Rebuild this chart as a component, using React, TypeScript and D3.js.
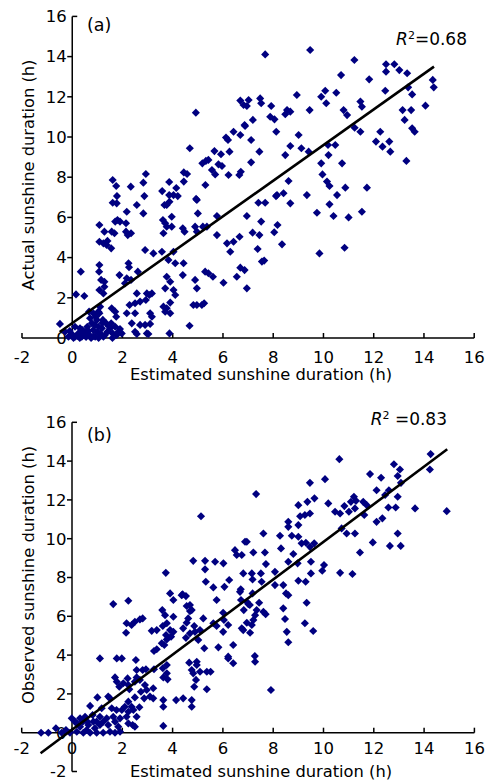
import * as d3 from 'd3';

// shared axis ticks
const xTicks = [-2, 0, 2, 4, 6, 8, 10, 12, 14, 16];
const yTicksA = [0, 2, 4, 6, 8, 10, 12, 14, 16];
const yTicksB = [-2, 0, 2, 4, 6, 8, 10, 12, 14, 16];

// (a) estimated vs actual sunshine duration
const pointsA: [number, number][] = [
  [1.61, 7.86], [1.75, 7.56], [2.33, 7.53], [2.83, 7.73], [2.93, 8.16], [2.87, 7.06], [1.78, 7.06], [3.58, 7.31],
  [3.86, 7.76], [4.14, 7.46], [4.2, 7.06], [4.44, 7.78], [4.44, 8.24], [4.57, 8.16], [4.68, 9.44], [4.92, 11.21],
  [4.93, 6.92], [5.18, 8.69], [5.32, 8.81], [5.42, 8.86], [5.3, 7.61], [5.66, 9.3], [5.56, 8.36], [5.69, 8.14],
  [5.82, 8.64], [5.96, 8.56], [5.92, 9.14], [6.26, 9.27], [6.12, 9.97], [6.2, 9.85], [6.42, 10.26], [6.69, 10.1],
  [6.69, 11.81], [6.82, 11.59], [6.86, 10.6], [6.22, 8.11], [6.65, 8.11], [6.71, 8.27],
  [7.68, 14.11], [9.47, 14.33], [11.23, 13.83], [12.49, 13.62], [12.82, 13.62], [13.02, 13.33], [13.33, 13.17],
  [12.49, 13.25], [10.7, 13.08], [11.82, 12.87], [14.35, 12.84], [14.39, 12.47], [10.07, 12.3], [9.91, 12.0],
  [10.51, 12.2], [8.94, 12.09], [10.11, 11.68], [12.46, 12.3], [13.37, 12.47], [13.53, 12.12], [7.02, 11.84],
  [7.48, 11.92], [7.52, 11.68], [7.92, 11.54], [6.95, 11.54], [9.45, 11.34], [8.55, 11.34], [8.48, 11.13],
  [8.68, 11.26], [10.8, 11.34], [10.94, 11.09], [11.47, 11.76], [11.53, 11.51], [13.15, 11.34], [13.49, 11.34],
  [14.06, 11.56], [7.88, 11.01], [8.05, 10.88], [7.19, 10.85], [6.88, 10.55], [13.23, 10.85], [8.12, 10.26],
  [11.24, 10.46], [11.47, 10.26], [12.26, 10.26], [13.53, 10.43], [13.63, 10.26], [7.12, 9.85], [9.01, 10.1],
  [7.45, 9.27], [8.68, 9.55], [9.12, 9.44], [9.41, 9.27], [10.18, 9.6], [10.47, 9.6], [10.2, 9.1], [12.09, 9.77],
  [12.35, 9.52], [12.62, 9.77], [12.66, 9.27], [8.48, 9.1], [7.12, 8.74], [9.91, 8.69], [10.74, 8.69], [13.3, 8.81],
  [9.96, 8.14], [10.14, 7.78], [10.24, 7.56], [8.61, 7.81], [10.87, 7.48], [11.73, 7.48], [8.15, 7.11], [8.41, 7.2],
  [9.34, 7.11], [10.54, 7.11],
  [3.86, 7.11], [1.61, 6.73], [1.77, 6.7], [1.8, 5.87], [1.71, 5.79], [1.9, 5.79], [2.14, 5.71], [2.57, 6.62],
  [2.83, 6.2], [2.17, 6.28], [1.08, 5.62], [1.28, 5.29], [1.57, 5.29], [1.68, 5.21], [2.14, 5.29], [2.34, 5.21],
  [2.21, 5.12], [1.08, 4.79], [1.24, 4.71], [1.4, 4.83], [1.37, 4.63], [1.55, 4.46], [3.67, 6.62], [3.76, 6.62],
  [3.87, 6.78], [4.03, 7.11], [3.96, 6.03], [3.61, 5.87], [3.7, 5.71], [3.76, 5.54], [3.96, 5.54], [3.63, 5.21],
  [4.4, 5.46], [4.47, 5.29], [4.96, 6.87], [5.0, 6.2], [4.89, 5.54], [4.96, 5.29], [5.2, 5.54], [5.36, 5.54],
  [5.76, 6.07], [5.76, 5.12], [2.9, 4.38], [3.23, 4.21], [3.57, 4.29], [4.03, 4.29], [0.34, 3.3], [1.08, 3.63],
  [1.07, 3.3], [1.15, 2.89], [1.28, 2.8], [1.08, 2.39], [1.28, 2.55], [1.24, 2.22], [2.24, 3.72], [2.26, 3.52],
  [1.88, 3.13], [2.17, 2.97], [2.34, 2.89], [2.1, 2.72], [2.61, 3.3], [2.57, 2.22], [2.97, 2.22], [3.07, 2.14],
  [3.17, 2.22], [3.83, 3.88], [4.1, 3.72], [4.43, 3.72], [3.76, 3.05], [3.9, 2.8], [3.7, 2.47], [4.03, 2.39],
  [4.1, 2.14], [4.4, 3.13], [4.89, 2.89], [4.96, 2.47], [5.29, 3.3], [5.42, 3.22], [5.6, 3.05], [6.02, 2.75],
  [4.82, 1.64], [4.96, 1.64], [5.16, 1.64], [5.25, 1.73], [3.63, 1.56], [3.76, 1.48], [3.9, 1.76], [3.7, 1.31],
  [3.9, 1.23], [2.93, 1.89], [2.7, 1.81], [2.5, 1.73], [2.28, 1.64], [2.17, 1.23], [2.5, 1.23], [3.1, 1.23],
  [3.17, 1.06], [2.37, 0.73], [2.7, 0.65], [2.9, 0.65], [3.1, 0.7], [2.97, 0.23], [2.5, 0.31], [3.87, 0.23],
  [4.67, 0.61], [1.71, 1.31], [1.75, 1.06], [1.57, 1.48], [1.55, 0.73], [1.84, 0.31], [1.97, 0.23], [-0.49, 0.7],
  [0.15, 2.17], [0.48, 2.09], [1.08, 1.23], [0.94, 1.06], [0.67, 1.31], [1.22, 0.9],
  [-0.29, 0.31], [-0.15, 0.06], [-0.02, 0.2], [0.11, 0.06], [0.24, 0.23], [0.38, 0.06], [0.51, 0.31], [0.6, 0.56],
  [0.68, 0.15], [0.78, 0.73], [0.84, 0.4], [0.91, 0.06], [0.98, 0.9], [1.04, 0.56], [1.11, 0.23], [1.18, 0.48],
  [1.24, 0.06], [1.35, 0.73], [1.4, 0.31], [1.51, 0.48], [1.61, 0.23], [1.71, 0.56], [1.77, 0.15], [0.55, 0.05],
  [0.31, 0.48], [0.11, 0.56], [0.71, 0.98], [0.84, 1.23], [1.04, 1.31], [1.11, 1.56], [0.05, 0.0], [0.2, 0.1],
  [0.45, 0.2], [0.65, 0.35], [0.85, 0.1], [1.0, 0.3], [1.3, 0.15], [1.45, 0.6], [0.9, 0.65], [1.2, 0.75],
  [0.4, 0.4], [-0.1, 0.35], [1.6, 0.0], [1.9, 0.45], [0.75, 0.0], [1.05, 0.0], [0.3, 0.0], [2.57, 0.2], [3.03, 0.2],
  [8.11, 7.06], [7.41, 6.73], [7.68, 6.73], [8.68, 6.7], [10.24, 6.65], [9.74, 6.23], [10.4, 6.07], [11.0, 6.0],
  [11.53, 6.28], [6.95, 6.07], [7.52, 5.79], [8.17, 5.62], [8.04, 5.26], [7.18, 5.24], [7.45, 5.12], [8.35, 4.66],
  [7.38, 4.43], [9.84, 4.21], [10.84, 4.49], [7.55, 3.8], [7.64, 3.85], [6.95, 2.47], [6.86, 3.38], [6.69, 3.5],
  [6.55, 3.05], [6.16, 4.71], [6.29, 4.29], [6.66, 5.04], [6.42, 4.79],
];

// (b) estimated vs observed sunshine duration
const pointsB: [number, number][] = [
  [5.13, 11.16], [3.73, 8.24], [4.82, 8.86], [5.29, 8.86], [5.29, 8.42], [5.69, 8.81], [6.02, 8.73], [5.32, 7.78],
  [5.62, 7.49], [6.06, 7.52], [6.25, 7.87], [6.48, 9.41], [6.55, 9.16], [6.75, 9.16], [6.88, 9.84], [6.81, 8.21],
  [6.71, 7.39],
  [10.63, 14.1], [14.26, 14.36], [14.23, 13.57], [12.8, 13.84], [13.04, 13.57], [12.95, 13.23], [13.08, 12.88],
  [11.85, 13.33], [12.29, 13.14], [10.06, 13.07], [9.46, 12.88], [7.32, 12.3], [12.11, 12.5], [12.6, 12.5],
  [12.45, 12.25], [12.95, 12.16], [13.64, 11.56], [14.9, 11.42], [12.58, 11.61], [12.87, 11.61], [11.21, 12.16],
  [11.29, 11.95], [11.09, 11.9], [11.58, 11.9], [11.72, 11.73], [9.64, 12.08], [9.36, 11.9], [9.0, 11.73],
  [10.19, 11.82], [10.83, 11.68], [11.25, 11.56], [10.46, 11.39], [10.66, 11.3], [11.01, 11.39], [11.62, 11.22],
  [9.07, 11.16], [9.26, 11.22], [9.46, 11.3], [8.6, 10.87], [8.6, 10.61], [9.0, 10.7], [12.11, 10.87],
  [12.34, 11.05], [10.72, 10.53], [10.92, 10.27], [11.25, 10.27], [12.95, 10.27], [8.27, 10.15], [8.74, 10.15],
  [7.61, 10.27], [6.95, 9.84], [9.0, 10.1], [9.13, 9.76], [9.3, 9.79], [9.63, 9.76], [9.46, 9.58], [11.96, 9.81],
  [12.64, 9.63], [13.07, 9.63], [11.45, 9.29], [7.21, 9.29], [7.67, 9.29], [8.31, 9.5], [7.71, 8.69], [8.8, 9.21],
  [9.5, 8.81], [10.02, 8.64], [9.95, 8.35], [8.6, 8.81], [8.97, 8.73], [8.07, 8.29], [7.51, 8.21], [7.15, 8.21],
  [10.66, 8.24], [11.15, 8.18], [9.5, 8.21], [9.0, 7.83], [9.29, 7.78], [8.07, 7.61], [8.4, 7.61], [7.54, 7.78],
  [1.64, 6.63], [2.24, 6.8], [3.9, 7.18], [4.36, 7.09], [4.03, 6.84], [4.69, 6.58], [4.76, 6.32], [5.75, 6.84],
  [6.68, 7.26], [2.17, 5.64], [2.5, 5.72], [2.7, 5.84], [2.81, 5.89], [2.15, 5.15], [2.37, 5.55], [3.17, 5.25],
  [3.37, 5.29], [3.59, 6.32], [3.7, 6.06], [4.03, 5.98], [3.77, 5.64], [3.61, 5.5], [3.9, 5.29], [4.03, 5.2],
  [3.74, 5.03], [3.94, 4.95], [3.77, 4.81], [3.57, 4.61], [3.67, 4.52], [3.37, 4.3], [3.26, 4.21], [4.42, 5.38],
  [4.56, 5.67], [4.86, 5.5], [4.53, 4.89], [4.69, 5.12], [5.02, 4.78], [5.22, 5.89], [5.75, 5.5], [5.26, 4.35],
  [5.82, 4.4], [6.41, 4.52], [6.21, 5.55], [6.75, 5.38], [6.41, 3.58], [6.21, 3.83], [4.66, 3.61], [4.96, 3.66],
  [4.96, 3.49], [4.76, 3.23], [4.82, 3.06], [5.09, 3.14], [5.36, 3.14], [5.51, 3.14], [4.93, 2.72], [4.86, 2.37],
  [5.36, 2.24], [3.77, 3.49], [3.61, 3.32], [3.77, 3.06], [3.63, 2.85], [3.8, 2.75], [1.78, 3.83], [1.98, 3.83],
  [1.11, 3.83], [2.54, 3.75], [2.57, 3.23], [2.81, 3.23], [2.94, 3.27], [3.26, 3.27], [1.71, 2.85], [1.78, 2.63],
  [1.88, 2.37], [2.04, 2.55], [2.21, 2.8], [2.24, 2.46], [2.28, 2.24], [2.5, 2.63], [2.57, 2.85], [2.7, 2.72],
  [2.9, 2.46], [2.97, 2.2], [3.23, 2.29], [2.74, 2.11], [3.1, 1.86], [2.87, 1.77], [3.23, 1.77], [2.5, 1.82],
  [2.24, 1.6], [2.37, 1.34], [2.68, 1.31], [2.44, 1.17], [1.98, 1.17], [1.51, 1.77], [1.01, 1.82], [0.72, 1.38],
  [1.18, 1.26], [3.63, 1.34], [3.63, 1.68], [4.14, 1.68], [4.42, 1.77], [4.76, 1.68], [4.76, 1.34], [3.63, 0.35],
  [2.41, 0.4], [2.17, 0.82],
  [-1.23, 0], [-0.94, 0], [-0.64, 0.23], [-0.41, 0], [-0.24, 0.14], [-0.01, 0.74], [0.12, 0.57], [0.32, 0.74],
  [0.52, 0.82], [0.61, 0.57], [0.82, 0.91], [0.85, 0.57], [1.11, 0.82], [1.38, 0.74], [1.64, 0.82], [1.71, 0.57],
  [1.44, 0.4], [1.84, 0.31], [1.11, 0.4], [0.91, 0.23], [0.58, 0.14], [0.32, 0.31], [0.19, 0.05], [0.45, 0],
  [0.72, 0], [0.98, 0], [1.24, 0], [1.51, 0.05], [1.71, 0], [1.91, 0.05], [-0.08, 0], [0.65, 0.4], [0.98, 0.57],
  [1.24, 0.57], [0.43, 0.57], [0.19, 0.48],
  [1.44, 1.86], [1.58, 1.26], [1.77, 1.17], [2.1, 1.34], [2.24, 1.08], [2.57, 0.82], [1.91, 0.74], [2.24, 0.48],
  [2.5, 0.31],
  [8.6, 7.09], [8.51, 7.18], [9.33, 6.7], [8.4, 6.41], [8.47, 5.86], [9.26, 5.64], [9.59, 5.24], [8.54, 5.2],
  [8.6, 4.66], [7.28, 3.66], [7.91, 2.2], [7.44, 6.7], [7.34, 6.32], [7.61, 6.23], [7.7, 6.11], [7.28, 6.06],
  [7.21, 5.81], [7.15, 5.55], [7.08, 5.15], [6.95, 5.67], [7.01, 6.63],
  [7.18, 7.9], [4.4, 7.13], [4.53, 7.04], [6.72, 6.84], [6.95, 6.75], [7.18, 7.18], [6.83, 6.32], [7.07, 6.58],
  [6.01, 6.18], [6.04, 5.81], [4.56, 6.53], [4.69, 6.27], [4.62, 5.89], [5.62, 5.64], [6.01, 5.2], [6.81, 5.29],
  [5.09, 5.29], [4.89, 5.2], [6.21, 3.92], [7.27, 3.95],
];

// fitted regression lines
const fitA = { slope: 0.886, intercept: 0.74, from: -0.5, to: 14.4, r2: '0.68' };
const fitB = { slope: 0.969, intercept: 0.15, from: -1.25, to: 14.92, r2: '0.83' };

const FONT = "'DejaVu Sans', 'Liberation Sans', Arial, sans-serif";
const MARKER = '#000080';
const diamond = d3.symbol().type(d3.symbolSquare).size(33)() || '';

type PanelProps = {
  points: [number, number][];
  fit: typeof fitA;
  yTicks: number[];
  yDomain: [number, number];
  xRange: [number, number];
  yRange: [number, number];
  xLabelGap: number;
  xTitleY: number;
  yTitle: string;
  yTitleY: number;
  tag: string;
  tagY: number;
  r2X: number;
  r2Y: number;
  r2Space: boolean;
};

function Panel(p: PanelProps) {
  const x = d3.scaleLinear().domain([-2, 16]).range(p.xRange);
  const y = d3.scaleLinear().domain(p.yDomain).range(p.yRange);
  const x0 = x(0);
  const y0 = y(0);
  const yTop = y(p.yDomain[1]);
  const yBot = y(p.yDomain[0]);
  const line = d3.line<number>().x((v) => x(v)).y((v) => y(p.fit.slope * v + p.fit.intercept));
  const endTicks = [p.yDomain[0], p.yDomain[1]];

  return (
    <g fontFamily={FONT} fill="#000">
      {/* axes */}
      <line x1={x(-2)} x2={x(16)} y1={y0} y2={y0} stroke="#000" strokeWidth={1.5} />
      <line x1={x0} x2={x0} y1={yTop} y2={yBot} stroke="#000" strokeWidth={1.5} />
      {xTicks.map((t) => (
        <g key={'x' + t}>
          <line x1={x(t)} x2={x(t)} y1={y0} y2={y0 - 5} stroke="#000" strokeWidth={1.5} />
          <text x={x(t)} y={y0 + p.xLabelGap} fontSize={16.5} textAnchor="middle">
            {t}
          </text>
        </g>
      ))}
      {p.yTicks.map((t) => {
        const inward = endTicks.includes(t) && t !== 0;
        return (
          <g key={'y' + t}>
            <line
              x1={x0}
              x2={inward ? x0 + 5 : x0 - 5}
              y1={y(t)}
              y2={y(t)}
              stroke="#000"
              strokeWidth={1.5}
            />
            <text x={x0 - 5.5} y={y(t) + 5.8} fontSize={16.5} textAnchor="end">
              {t}
            </text>
          </g>
        );
      })}

      {/* scatter */}
      {p.points.map(([a, b], i) => (
        <path key={i} d={diamond} transform={`translate(${x(a)},${y(b)}) rotate(45)`} fill={MARKER} />
      ))}

      {/* regression line */}
      <path d={line([p.fit.from, p.fit.to]) || ''} stroke="#000" strokeWidth={2.6} fill="none" />

      {/* labels */}
      <text x={87} y={p.tagY} fontSize={17.5}>
        {p.tag}
      </text>
      <text x={p.r2X} y={p.r2Y} fontSize={17} textAnchor="end">
        <tspan fontStyle="italic">R</tspan>
        <tspan fontSize={11} dy={-6}>
          2
        </tspan>
        <tspan dy={6}>{(p.r2Space ? ' ' : '') + '=' + p.fit.r2}</tspan>
      </text>
      <text x={(x(-2) + x(16)) / 2 + 13} y={p.xTitleY} fontSize={16.3} textAnchor="middle">
        Estimated sunshine duration (h)
      </text>
      <text
        transform={`translate(34,${p.yTitleY}) rotate(-90)`}
        fontSize={16.3}
        textAnchor="middle"
      >
        {p.yTitle}
      </text>
    </g>
  );
}

export default function App() {
  return (
    <svg
      width={490}
      height={783}
      style={{ position: 'absolute', left: 0, top: 0, background: '#fff' }}
    >
      <rect width={490} height={783} fill="#fff" />
      <Panel
        points={pointsA}
        fit={fitA}
        yTicks={yTicksA}
        yDomain={[0, 16]}
        xRange={[22, 474.2]}
        yRange={[338, 16.4]}
        xLabelGap={24.5}
        xTitleY={380}
        yTitle="Actual sunshine duration (h)"
        yTitleY={175}
        tag="(a)"
        tagY={31}
        r2X={467}
        r2Y={44.5}
        r2Space={false}
      />
      <Panel
        points={pointsB}
        fit={fitB}
        yTicks={yTicksB}
        yDomain={[-2, 16]}
        xRange={[21.7, 474.4]}
        yRange={[771.5, 422.3]}
        xLabelGap={21}
        xTitleY={777}
        yTitle="Observed sunshine duration (h)"
        yTitleY={575}
        tag="(b)"
        tagY={441}
        r2X={447}
        r2Y={425}
        r2Space={true}
      />
    </svg>
  );
}
